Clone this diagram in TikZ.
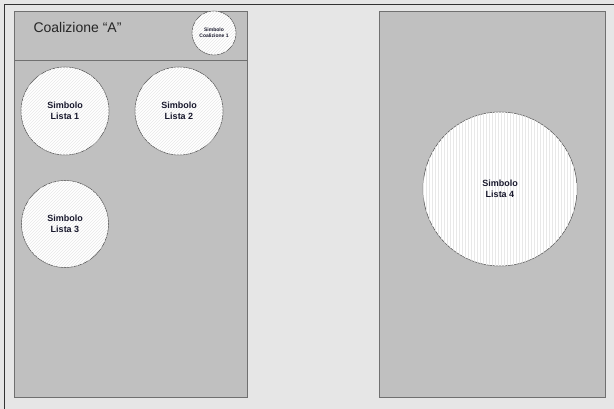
\documentclass[tikz,border=0pt]{standalone}
\usepackage{fontspec}
\setmainfont{Liberation Sans}
\usetikzlibrary{positioning,patterns}
\definecolor{sheetGray}{RGB}{230,230,230}
\definecolor{panelGray}{RGB}{192,192,192}
\definecolor{panelLine}{RGB}{112,112,112}
\definecolor{hatchGray}{RGB}{232,232,232}
\definecolor{labelInk}{RGB}{25,25,45}
\tikzset{
  panel/.style={draw=panelLine, fill=panelGray, line width=0.9pt, anchor=north west, inner sep=0pt},
  simbolo/.style={circle, draw=black!70, line width=0.5pt, fill=white,
    postaction={pattern=#1, pattern color=hatchGray},
    align=center, text=labelInk, inner sep=0pt,
    font=\fontsize{9}{10.5}\selectfont\bfseries},
  simbolo/.default={north east lines},
}
\begin{document}
\begin{tikzpicture}[x=1pt,y=-1pt]
\useasboundingbox (0,0) rectangle (614,409);
\fill[sheetGray] (0,0) rectangle (614,409);
\draw[black!80, line width=1pt] (4,409) -- (4,5) -- (614,5);

% left: coalition panel
\node[panel, minimum width=233, minimum height=386] (coalA) at (14,11) {};
\draw[panelLine, line width=0.9pt] (14,60) -- (247,60);
\node[anchor=west, font=\fontsize{14}{16}\selectfont, text=black!85] (titleA) at (30,27) {Coalizione “A”};
\node[simbolo, minimum size=44, font=\fontsize{5}{6}\selectfont\bfseries] (coal1) at (214,33) {Simbolo\\Coalizione 1};

\node[simbolo, minimum size=88] (lista1) at (65,111) {Simbolo\\Lista 1};
\node[simbolo, minimum size=88] (lista2) at (179,111) {Simbolo\\Lista 2};
\node[simbolo, minimum size=87] (lista3) at (65,224) {Simbolo\\Lista 3};

% right: single list panel
\node[panel, minimum width=226, minimum height=386] (listaSola) at (379,11) {};
\node[simbolo=vertical lines, minimum size=154] (lista4) at (500,189) {Simbolo\\Lista 4};
\end{tikzpicture}
\end{document}
